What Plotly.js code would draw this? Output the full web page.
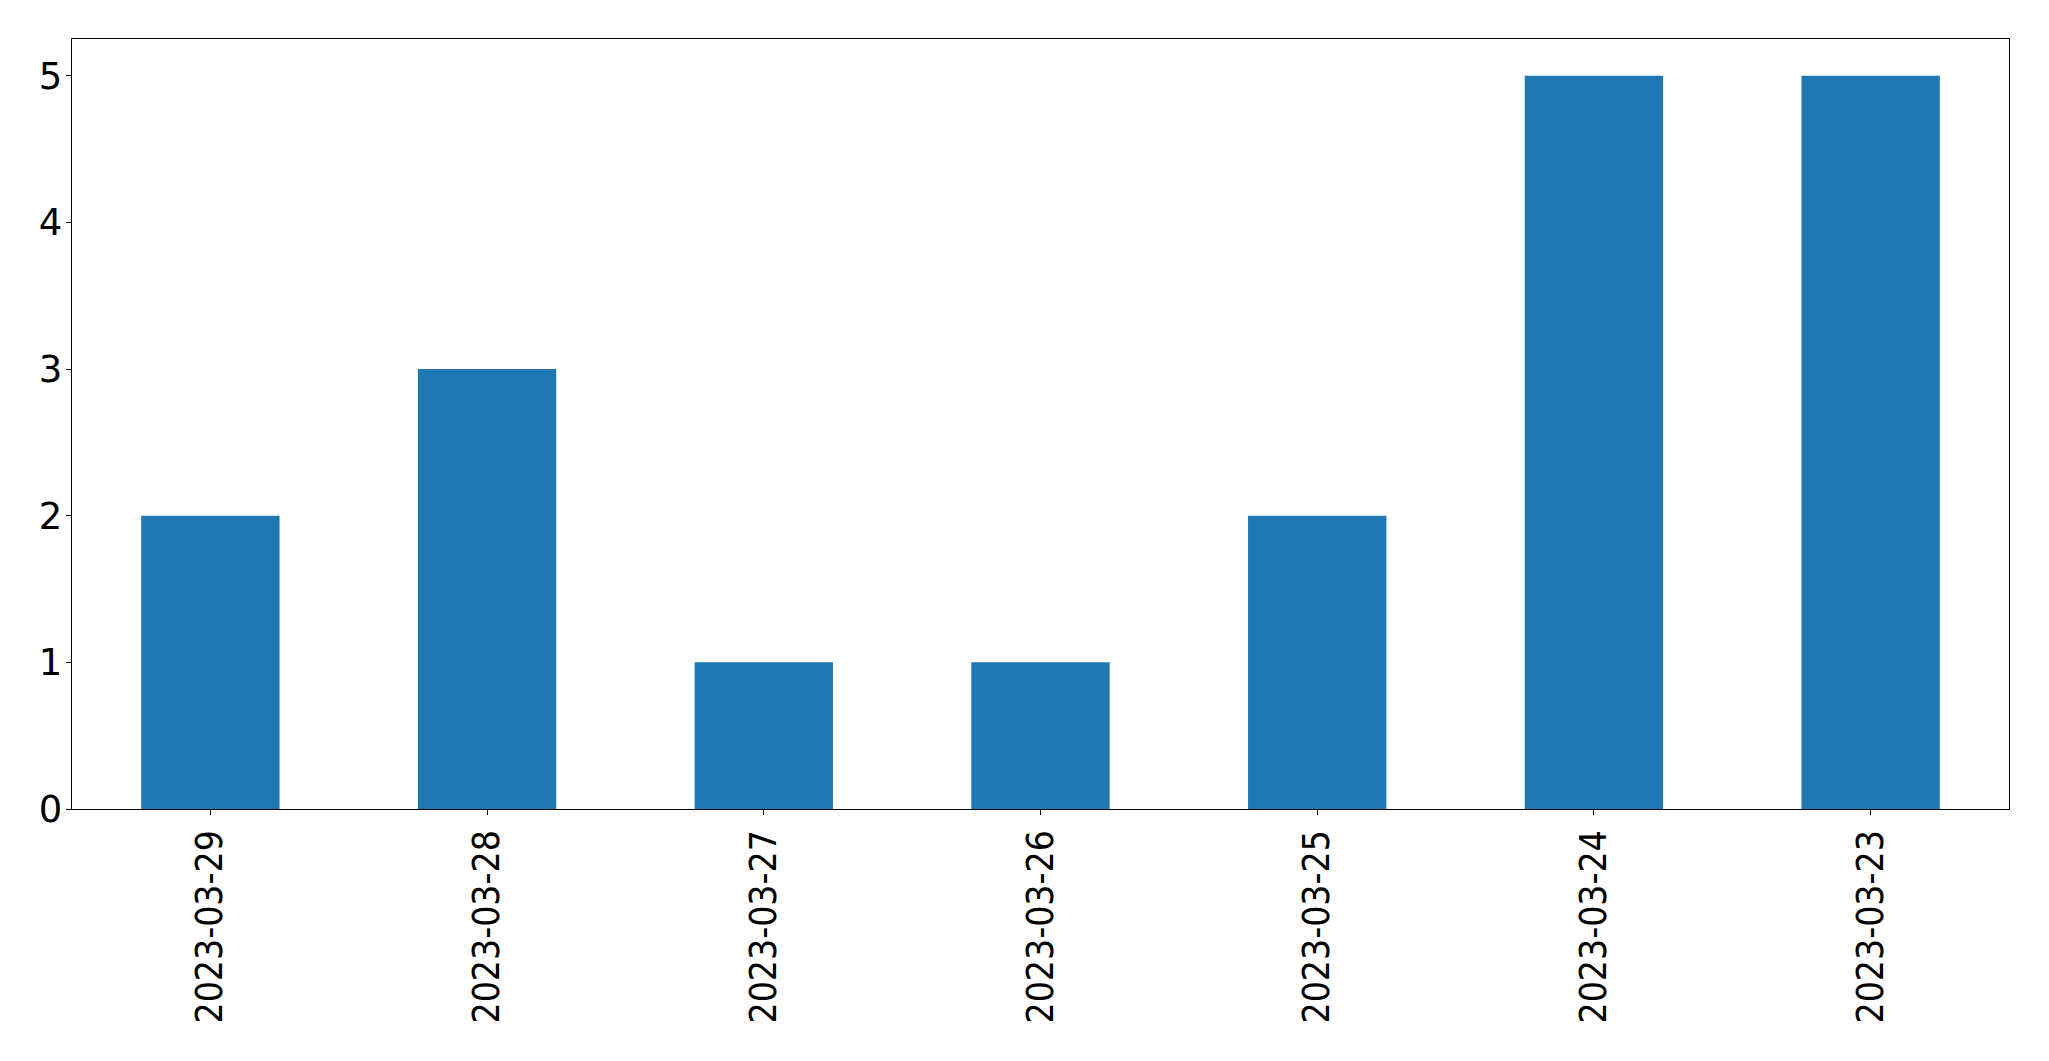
<!DOCTYPE html>
<html>
<head>
<meta charset="utf-8">
<script src="https://cdn.plot.ly/plotly-3.0.1.min.js"></script>
<style>html,body{margin:0;padding:0;background:#fff;}#chart{width:2049px;height:1061px;}</style>
</head>
<body>
<div id="chart"></div>
<script>
const dates = ["2023-03-29","2023-03-28","2023-03-27","2023-03-26","2023-03-25","2023-03-24","2023-03-23"];
const counts = [2, 3, 1, 1, 2, 5, 5];
const yTicks = [0, 1, 2, 3, 4, 5];

const trace = {
  type: "bar",
  x: dates,
  y: counts,
  width: 0.5,
  marker: {color: "#1f77b4", line: {width: 0}},
  hoverinfo: "x+y"
};

const layout = {
  width: 2049,
  height: 1061,
  paper_bgcolor: "#fff",
  plot_bgcolor: "#fff",
  showlegend: false,
  margin: {l: 72, r: 40, t: 39, b: 252, pad: 0},
  xaxis: {
    type: "category",
    range: [-0.5, 6.5],
    tickangle: -90,
    ticks: "outside",
    ticklen: 5,
    tickwidth: 1,
    tickcolor: "#000",
    tickfont: {family: "DejaVu Sans Condensed, DejaVu Sans, sans-serif", size: 37, color: "#000"},
    showline: true,
    linecolor: "#000",
    linewidth: 1.3,
    mirror: true,
    showgrid: false,
    zeroline: false
  },
  yaxis: {
    range: [0, 5.25],
    tickvals: yTicks,
    ticktext: yTicks.map(String),
    ticks: "outside",
    ticklen: 5,
    tickwidth: 1,
    tickcolor: "#000",
    tickfont: {family: "DejaVu Sans, sans-serif", size: 37, color: "#000"},
    ticklabelstandoff: -4,
    showline: true,
    linecolor: "#000",
    linewidth: 1.3,
    mirror: true,
    showgrid: false,
    zeroline: false
  }
};

Plotly.newPlot("chart", [trace], layout, {displayModeBar: false, staticPlot: true});
</script>
</body>
</html>
